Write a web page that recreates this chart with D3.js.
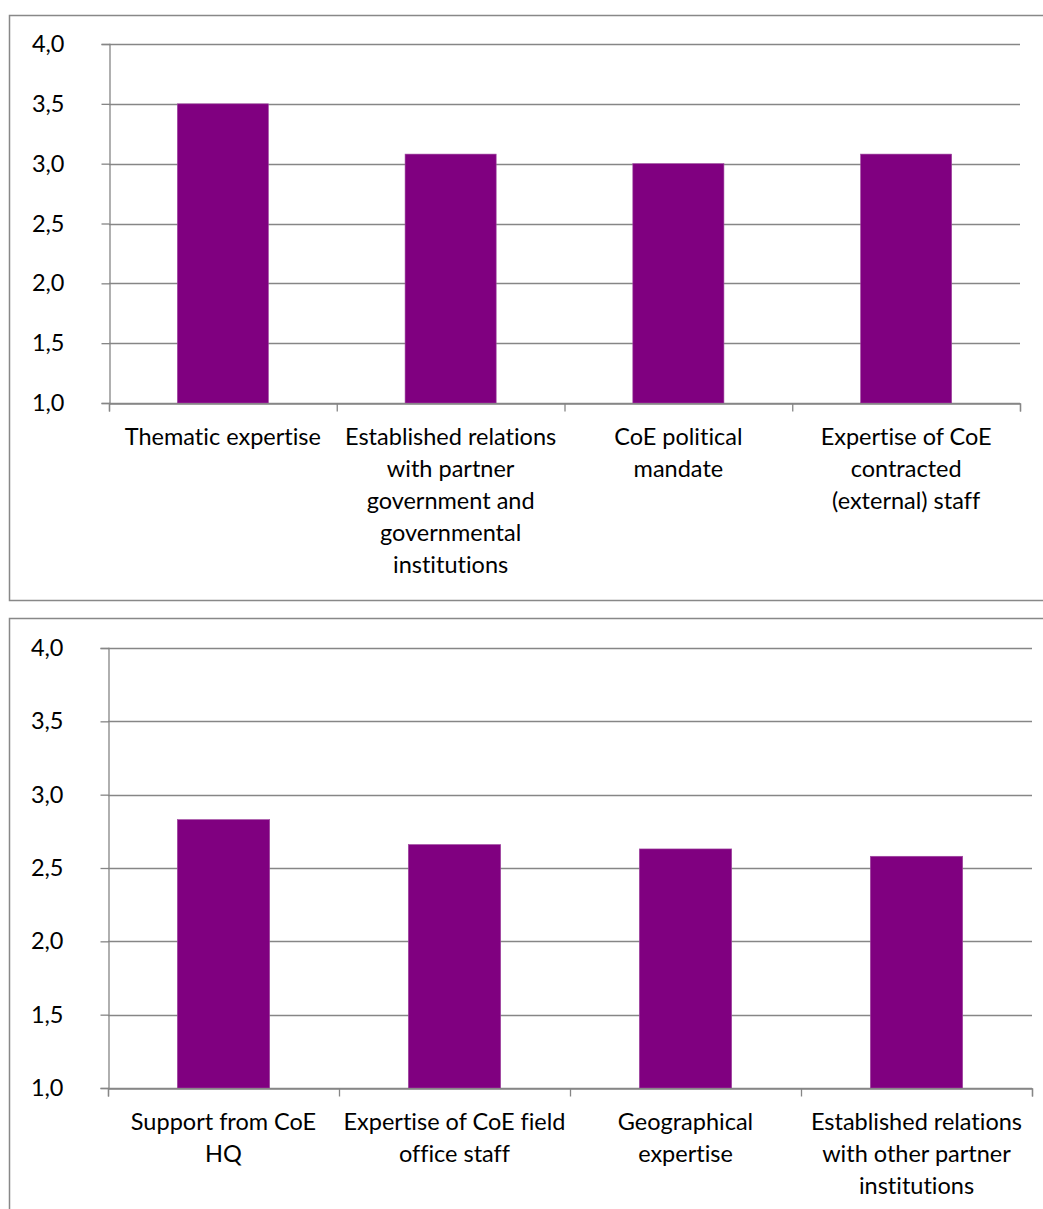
<!DOCTYPE html>
<html><head><meta charset="utf-8">
<script src="https://cdn.jsdelivr.net/npm/d3@7"></script>
<style>
html,body{margin:0;padding:0;background:#fff;}
svg{display:block;}
text{font-family:Lato, "Open Sans", sans-serif;fill:#000;font-variant-ligatures:none;font-feature-settings:"liga" 0, "clig" 0;}
</style></head>
<body>
<svg id="c" width="1043" height="1209"></svg>
<script>
// ---- data ----
const categoriesTop = [
  ["Thematic expertise"],
  ["Established relations","with partner","government and","governmental","institutions"],
  ["CoE political","mandate"],
  ["Expertise of CoE","contracted","(external) staff"]
];
const valuesTop = [3.5, 3.08, 3.0, 3.08];

const categoriesBottom = [
  ["Support from CoE","HQ"],
  ["Expertise of CoE field","office staff"],
  ["Geographical","expertise"],
  ["Established relations","with other partner","institutions"]
];
const valuesBottom = [2.83, 2.66, 2.63, 2.58];

const yTicks = [1.0, 1.5, 2.0, 2.5, 3.0, 3.5, 4.0];
const yDomain = [1, 4];

const svg = d3.select("#c");
const fmt = d => d.toFixed(1).replace(".", ",");
const FS = "23.5px";

function drawChart(cfg){
  const g = svg.append("g");
  // outer frame
  g.append("rect").attr("x", cfg.box[0]+0.5).attr("y", cfg.box[1]+0.5)
    .attr("width", cfg.box[2]).attr("height", cfg.box[3])
    .attr("fill","#fff").attr("stroke","#888").attr("stroke-width",1.5);

  const x = d3.scaleBand().domain(d3.range(cfg.values.length))
    .range([cfg.left, cfg.right]).paddingInner(0.6).paddingOuter(0.3);
  const y = d3.scaleLinear().domain(yDomain).range([cfg.bottom, cfg.top]);

  // gridlines
  g.append("g").selectAll("line").data(yTicks).join("line")
    .attr("x1", cfg.left).attr("x2", cfg.right)
    .attr("y1", d => Math.round(y(d))+0.5).attr("y2", d => Math.round(y(d))+0.5)
    .attr("stroke","#868686").attr("stroke-width",1.3);

  // bars
  g.append("g").selectAll("rect").data(cfg.values).join("rect")
    .attr("x", (d,i) => x(i)).attr("width", x.bandwidth())
    .attr("y", d => y(d)).attr("height", d => y(yDomain[0]) - y(d))
    .attr("fill","#800080").attr("stroke","#a04aa0").attr("stroke-width",0.6);

  // y axis
  const ya = d3.axisLeft(y).tickValues(yTicks).tickFormat(fmt).tickSize(8).tickPadding(37);
  const yg = g.append("g").attr("transform",`translate(${cfg.left+0.5},0)`).call(ya);
  yg.attr("font-family", null).attr("font-size", null);
  yg.select(".domain").attr("stroke","#868686").attr("stroke-width",1.3);
  yg.selectAll(".tick line").attr("stroke","#868686").attr("stroke-width",1.3);
  yg.selectAll(".tick text").style("font-size",FS).attr("fill","#000");

  // x axis line and ticks at category boundaries
  const xb = d3.scaleLinear().domain([0, cfg.values.length]).range([cfg.left, cfg.right]);
  const xa = d3.axisBottom(xb).tickValues(d3.range(cfg.values.length+1)).tickSize(8).tickFormat("").tickSizeOuter(8);
  const xg = g.append("g").attr("transform",`translate(0,${Math.round(y(yDomain[0]))+0.5})`).call(xa);
  xg.select(".domain").attr("stroke","#868686").attr("stroke-width",1.3);
  xg.selectAll(".tick line").attr("stroke","#868686").attr("stroke-width",1.3);

  // category labels
  const lab = g.append("g").selectAll("text").data(cfg.labels).join("text")
    .attr("text-anchor","middle")
    .attr("x", (d,i) => x(i) + x.bandwidth()/2)
    .attr("y", y(yDomain[0]) + 42)
    .style("font-size",FS);
  lab.selectAll("tspan").data(d => d).join("tspan")
    .attr("x", function(){ return d3.select(this.parentNode).attr("x"); })
    .attr("dy", (d,i) => i === 0 ? 0 : 32)
    .text(d => d);
}

drawChart({box:[9,15,1100,585], left:109, right:1020, top:44, bottom:403,
  values: valuesTop, labels: categoriesTop});
drawChart({box:[9,618,1100,700], left:108, right:1032, top:648, bottom:1088,
  values: valuesBottom, labels: categoriesBottom});
</script>
</body></html>
